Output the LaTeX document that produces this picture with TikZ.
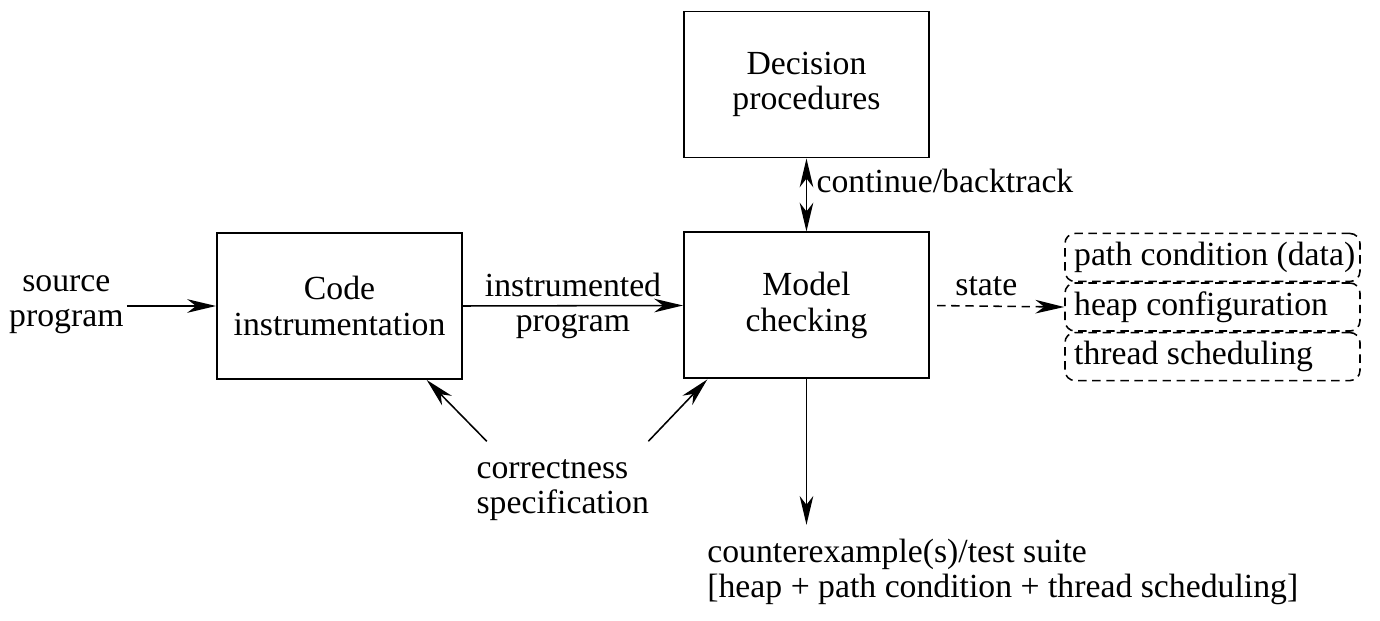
\documentclass[tikz,border=0pt]{standalone}
\usepackage{fontspec}
\setmainfont{Liberation Serif}
\usepackage{tikz}
\usetikzlibrary{
    positioning,
    arrows.meta
}

\begin{document}
\begin{tikzpicture}[
            font=\fontsize{12}{12.5}\selectfont,
            >={Stealth[length=3.6mm, width=1.7mm, inset=1.1mm]},
            block/.style={draw, line width=0.7pt, minimum width=3.0625cm, minimum height=1.825cm, align=center},
            lbl/.style={align=center, inner sep=1pt},
            state row/.style={draw, line width=0.55pt, dash pattern=on 3pt off 2pt, rounded corners=1.25mm, minimum width=3.6875cm, minimum height=0.6cm, inner sep=0pt},
            flow/.style={->, line width=0.55pt}
        ]
        \useasboundingbox (0,0) rectangle (17.25,7.7625);
        \node[block] (code) at (4.244,3.9375) {Code\\instrumentation};
        \node[block] (model) at (10.081,3.944) {Model\\checking};
        \node[block] (dec) at (10.081,6.706) {Decision\\procedures};
        \node[lbl] (src) at (0.83,3.95) {source\\program};
        \node[lbl, align=left, anchor=north west] (spec) at (5.915,2.066) {correctness\\specification};
        \node[lbl, align=left, anchor=north west] (cex) at (8.8,1.0625) {counterexample(s)/test suite\\{}[heap + path condition + thread scheduling]};
        \node[state row, label={[anchor=west]west:path condition (data)}] (pc) at (15.156,4.544) {};
        \node[state row, below=0pt of pc, label={[anchor=west]west:heap configuration}] (hc) {};
        \node[state row, below=0pt of hc, label={[anchor=west]west:thread scheduling}] (ts) {};
        \draw[flow] (src.east |- code.west) -- (code.west);
        \draw[flow] (code.east) -- (model.west) node[lbl, midway] (instr) {instrumented\\program};
        \draw[flow, <->] (dec.south) -- (model.north) node[right, pos=0.31] (cb) {continue/backtrack};
        \draw[flow, dash pattern=on 3pt off 2pt, shorten <=0.09cm] (model.east) -- (hc.west) node[above, pos=0.42] (st) {state};
        \draw[flow] (model.south) -- ([yshift=0.14cm]model.south |- cex.north);
        \draw[flow] ([shift={(0.17,0.18)}]spec.north west) -- ([xshift=1.09cm]code.south);
        \draw[flow] ([shift={(-0.05,0.18)}]spec.north east) -- ([xshift=-1.24cm]model.south);
        % \draw[help lines] (0,0) grid (17,7);
    \end{tikzpicture}
\end{document}
